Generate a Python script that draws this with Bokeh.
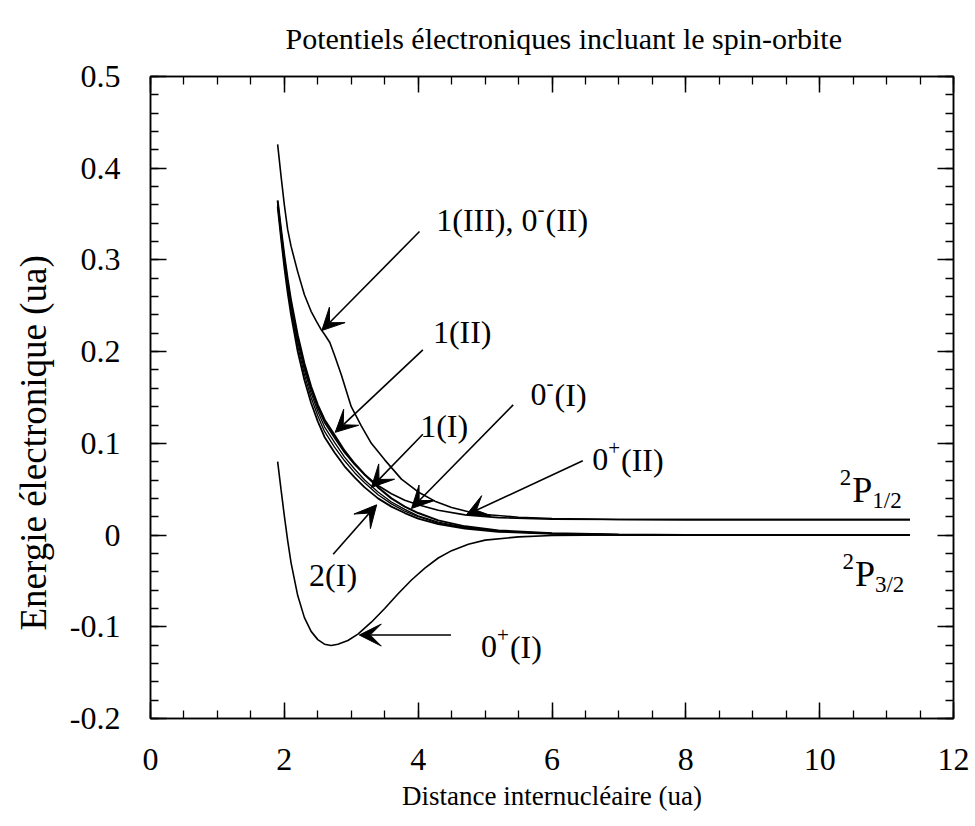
from bokeh.plotting import figure
from bokeh.models import (Range1d, LinearAxis, FixedTicker, CustomJSTickFormatter,
                          Arrow, VeeHead, ColumnDataSource, Title)
from bokeh.core.properties import value
from bokeh.embed import file_html
from bokeh.resources import INLINE

SERIF = "Liberation Serif"

# ---- potential energy curves: R (ua) -> E (ua) ----
# 1(III) and 0-(II), nearly degenerate, correlating to 2P1/2
r_1III = [1.90, 1.95, 2.00, 2.05, 2.10, 2.20, 2.30, 2.40, 2.48, 2.55, 2.60, 2.68,
          2.75, 2.85, 3.00, 3.15, 3.30, 3.50, 3.75, 4.00, 4.25, 4.50, 4.75, 5.00,
          5.50, 6.00, 7.00, 8.00, 11.35]
e_1III = [0.426, 0.392, 0.360, 0.333, 0.315, 0.287, 0.262, 0.244, 0.233, 0.224, 0.219, 0.210,
          0.196, 0.175, 0.140, 0.119, 0.100, 0.082, 0.061, 0.047, 0.037, 0.030, 0.0255, 0.0225,
          0.0195, 0.0180, 0.0170, 0.0168, 0.0168]

# repulsive states sharing one R grid
r_rep = [1.90, 1.95, 2.00, 2.05, 2.10, 2.20, 2.30, 2.40, 2.50, 2.60, 2.75, 2.90, 3.05,
         3.20, 3.40, 3.60, 3.80, 4.00, 4.30, 4.70, 5.20, 6.00, 7.00, 8.00, 11.35]
e_1II = [0.365, 0.334, 0.305, 0.279, 0.256, 0.218, 0.187, 0.162, 0.142, 0.126, 0.109, 0.092, 0.078,
         0.066, 0.052, 0.040, 0.031, 0.024, 0.016, 0.0095, 0.0050, 0.0020, 0.0005, 0.0, 0.0]
e_0mI = [0.362, 0.330, 0.300, 0.273, 0.250, 0.211, 0.180, 0.155, 0.135, 0.118, 0.101, 0.085, 0.072,
         0.060, 0.047, 0.036, 0.028, 0.021, 0.014, 0.0085, 0.0045, 0.0017, 0.0004, 0.0, 0.0]
e_1I = [0.360, 0.327, 0.296, 0.269, 0.245, 0.206, 0.175, 0.150, 0.130, 0.113, 0.096, 0.081, 0.068,
        0.057, 0.044, 0.034, 0.026, 0.020, 0.013, 0.0078, 0.0040, 0.0015, 0.0003, 0.0, 0.0]
e_2I = [0.358, 0.324, 0.292, 0.264, 0.240, 0.200, 0.169, 0.144, 0.124, 0.107, 0.090, 0.075, 0.063,
        0.052, 0.040, 0.031, 0.024, 0.018, 0.012, 0.0070, 0.0036, 0.0013, 0.0002, 0.0, 0.0]
e_0pII = [0.363, 0.332, 0.302, 0.276, 0.253, 0.215, 0.184, 0.159, 0.139, 0.123, 0.106, 0.090, 0.077,
          0.066, 0.054, 0.045, 0.038, 0.033, 0.027, 0.022, 0.019, 0.0174, 0.0169, 0.0168, 0.0168]

# bound ground state 0+(I)
r_0pI = [1.90, 1.95, 2.00, 2.05, 2.10, 2.20, 2.30, 2.40, 2.50, 2.60, 2.70, 2.80, 2.95, 3.10,
         3.30, 3.50, 3.70, 3.90, 4.10, 4.30, 4.50, 4.75, 5.00, 5.50, 6.00, 7.00, 8.00, 11.35]
e_0pI = [0.080, 0.050, 0.021, -0.006, -0.030, -0.066, -0.090, -0.105, -0.114, -0.119, -0.1205,
         -0.119, -0.115, -0.108, -0.095, -0.080, -0.064, -0.049, -0.036, -0.025, -0.017, -0.010,
         -0.0055, -0.002, -0.0005, 0.0, 0.0, 0.0]

x_ticks = [0, 2, 4, 6, 8, 10, 12]
y_ticks = [-0.2, -0.1, 0.0, 0.1, 0.2, 0.3, 0.4, 0.5]
x_minor = [i * 0.5 for i in range(25)]
y_minor = [round(-0.2 + i * 0.02, 2) for i in range(36)]

# state labels: anchor (R, E) of the left end, and text pieces
state_labels = [
    ((4.27, 0.343), [("1(III), 0", "n"), ("-", "sup"), ("(II)", "n")]),
    ((4.22, 0.221), [("1(II)", "n")]),
    ((4.03, 0.119), [("1(I)", "n")]),
    ((5.68, 0.153), [("0", "n"), ("-", "sup"), ("(I)", "n")]),
    ((6.60, 0.082), [("0", "n"), ("+", "sup"), ("(II)", "n")]),
    ((2.37, -0.044), [("2(I)", "n")]),
    ((4.94, -0.122), [("0", "n"), ("+", "sup"), ("(I)", "n")]),
    ((10.30, 0.049), [("2", "sup"), ("P", "big"), ("1/2", "sub")]),
    ((10.34, -0.0425), [("2", "sup"), ("P", "big"), ("3/2", "sub")]),
]

# pointer arrows: (R tail, E tail, R head, E head)
pointers = [
    (4.02, 0.331, 2.56, 0.223),
    (4.07, 0.202, 2.76, 0.112),
    (4.07, 0.110, 3.30, 0.052),
    (5.42, 0.142, 3.90, 0.029),
    (6.46, 0.081, 4.72, 0.022),
    (2.73, -0.021, 3.38, 0.033),
    (4.49, -0.109, 3.12, -0.109),
]

p = figure(width=975, height=826, x_range=Range1d(0, 12), y_range=Range1d(-0.2, 0.5),
           output_backend="svg", toolbar_location=None,
           min_border_left=150, min_border_right=22, min_border_top=76, min_border_bottom=108)

p.title.text = "Potentiels électroniques incluant le spin-orbite"
p.title.align = "left"
p.title.offset = 135
p.title.vertical_align = "top"
p.title.text_font = SERIF
p.title.text_font_size = "30px"
p.title.text_font_style = "normal"
p.title.text_color = "black"
p.title.standoff = 40

p.xgrid.visible = False
p.ygrid.visible = False
p.outline_line_color = "black"
p.outline_line_width = 1.5
p.background_fill_color = "white"
p.border_fill_color = "white"


def style_axis(ax, ticks, minor):
    ax.ticker = FixedTicker(ticks=ticks, minor_ticks=minor)
    ax.axis_line_color = "black"
    ax.axis_line_width = 1.5
    ax.major_tick_line_color = "black"
    ax.major_tick_line_width = 1.5
    ax.minor_tick_line_color = "black"
    ax.minor_tick_line_width = 1.3
    ax.major_tick_in = 16
    ax.major_tick_out = 0
    ax.minor_tick_in = 8
    ax.minor_tick_out = 0
    ax.major_label_text_font = SERIF
    ax.major_label_text_font_size = "32px"
    ax.major_label_text_color = "black"
    ax.axis_label_text_font = SERIF
    ax.axis_label_text_font_style = "normal"
    ax.axis_label_text_color = "black"


xa = p.xaxis[0]
ya = p.yaxis[0]
style_axis(xa, x_ticks, x_minor)
style_axis(ya, y_ticks, y_minor)
xa.formatter = CustomJSTickFormatter(code="return tick.toFixed(0)")
ya.formatter = CustomJSTickFormatter(code="return (Math.round(tick*10)/10).toString()")
xa.major_label_standoff = 30
ya.major_label_standoff = 30
xa.axis_label = "Distance internucléaire (ua)"
xa.axis_label_text_font_size = "27px"
xa.axis_label_standoff = 8

blank = CustomJSTickFormatter(code="return ''")
top = LinearAxis(formatter=blank, major_label_standoff=0)
right = LinearAxis(formatter=blank, major_label_standoff=0)
style_axis(top, x_ticks, x_minor)
style_axis(right, y_ticks, y_minor)
top.major_label_text_font_size = "1px"
right.major_label_text_font_size = "1px"
p.add_layout(top, "above")
p.add_layout(right, "right")

# vertical axis title, started a little above the frame bottom
p.add_layout(Title(text="Energie électronique (ua)", align="left", offset=88,
                   vertical_align="top", text_font=SERIF, text_font_size="37px",
                   text_font_style="normal", text_color="black", standoff=22), "left")

# curves
p.line(r_0pI, e_0pI, line_color="black", line_width=1.6)
p.line(r_1III, e_1III, line_color="black", line_width=1.6)
p.line(r_rep, e_0pII, line_color="black", line_width=1.6)
p.line(r_rep, e_2I, line_color="black", line_width=1.8)
p.line(r_rep, e_1I, line_color="black", line_width=1.3)
p.line(r_rep, e_0mI, line_color="black", line_width=1.3)
p.line(r_rep, e_1II, line_color="black", line_width=2.0)

# pointer arrows
for xs, ys, xe, ye in pointers:
    p.add_layout(Arrow(x_start=xs, y_start=ys, x_end=xe, y_end=ye,
                       line_color="black", line_width=1.6,
                       end=VeeHead(size=22, fill_color="black", line_color="black", line_width=1)))

# state labels built from pieces (superscripts / subscripts)
ADV = {"0": .5, "1": .5, "2": .5, "3": .5, "(": .333, ")": .333, "I": .333, ",": .25,
       " ": .25, "-": .333, "+": .564, "P": .556, "/": .278}
seg = dict(x=[], y=[], text=[], size=[], dx=[], dy=[])
for (ax_, ay_), pieces in state_labels:
    base = 36 if any(k == "big" for _, k in pieces) else 32
    cursor = 0.0
    for txt, kind in pieces:
        if kind == "n":
            sz, dy = 32, 0.0
        elif kind == "big":
            sz, dy = 36, 0.0
        elif kind == "sup":
            sz, dy = (21 if base == 32 else 23), -0.36 * base
        else:
            sz, dy = 23, 0.30 * base
        seg["x"].append(ax_)
        seg["y"].append(ay_)
        seg["text"].append(txt)
        seg["size"].append(f"{sz}px")
        seg["dx"].append(cursor)
        seg["dy"].append(dy)
        cursor += sum(ADV.get(c, 0.5) for c in txt) * sz + (1 if kind == "sup" else 0)

p.text(x="x", y="y", text="text", text_font_size="size", x_offset="dx", y_offset="dy",
       source=ColumnDataSource(seg), text_font=value(SERIF), text_color="black",
       text_baseline="middle", text_align="left")

open("out.html", "w").write(file_html(p, INLINE))
